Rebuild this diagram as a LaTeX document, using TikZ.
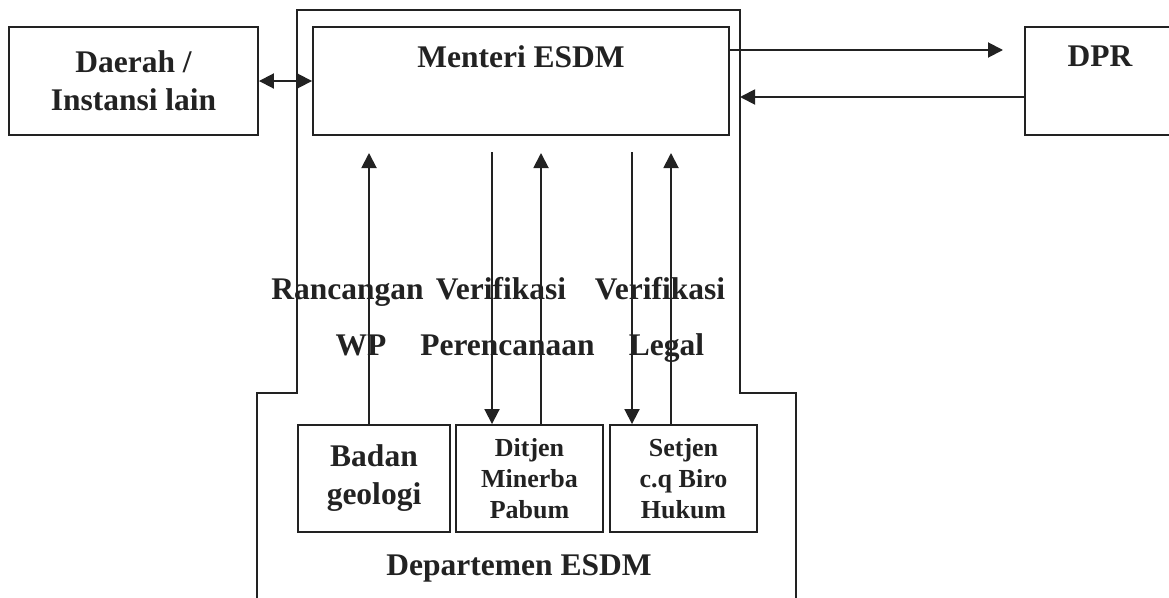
\documentclass[tikz,border=0pt]{standalone}
\usepackage{fontspec}
\setmainfont{Liberation Serif}
\usetikzlibrary{arrows.meta}
\definecolor{ink}{HTML}{222222}
\begin{document}
\begin{tikzpicture}[x=1pt,y=-1pt,
  line/.style={draw=ink,line width=1.9pt},
  arr/.style={line,-{Triangle[length=15pt,width=15pt]}},
  box/.style={line,rectangle,inner sep=0pt,align=center,text=ink,
    font=\fontsize{31.5}{38}\selectfont\bfseries},
  unit/.style={box,minimum width=147pt,minimum height=107pt},
  word/.style={anchor=base,text=ink,inner sep=0pt,
    font=\fontsize{31.5}{38}\selectfont\bfseries}]
\clip (0,0) rectangle (1169,597);
% Departemen ESDM
\draw[line] (257,620) -- (257,393) -- (297,393) -- (297,10) -- (740,10)
  -- (740,393) -- (796,393) -- (796,620);
\node[box,minimum width=249pt,minimum height=108pt] (DA) at (133.5,81) {Daerah /\\Instansi lain};
\node[box,minimum width=416pt,minimum height=108pt] (ME) at (521,81) {Menteri ESDM\\\strut};
\node[box,minimum width=150pt,minimum height=108pt] (DP) at (1100,81) {DPR\\\strut};
\node[unit,minimum width=152pt] (BG) at (374,478.5) {Badan\\geologi};
\node[unit,font=\fontsize{26}{31}\selectfont\bfseries] (DM) at (529.5,478.5) {Ditjen\\Minerba\\Pabum};
\node[unit,font=\fontsize{26}{31}\selectfont\bfseries] (SB) at (683.5,478.5) {Setjen\\c.q Biro\\Hukum};
\node[word] (DE) at (519,575) {Departemen ESDM};
% arrows
\draw[arr,{Triangle[length=15pt,width=15pt]}-{Triangle[length=15pt,width=15pt]}] (DA.east) -- (ME.west);
\coordinate (c1) at (1003,50);
\coordinate (c2) at (740,97);
\draw[arr] (ME.east |- c1) -- (c1);
\draw[arr] (DP.west |- c2) -- (c2);
\coordinate (u1) at (369,153);
\coordinate (d2) at (492,152);
\coordinate (u2) at (541,153);
\coordinate (d3) at (632,152);
\coordinate (u3) at (671,153);
\draw[arr] (u1 |- BG.north) -- (u1);
\draw[arr] (d2) -- (d2 |- DM.north);
\draw[arr] (u2 |- DM.north) -- (u2);
\draw[arr] (d3) -- (d3 |- SB.north);
\draw[arr] (u3 |- SB.north) -- (u3);
% labels
\node[word] (L1) at (347.5,299) {Rancangan};
\node[word] (L2) at (501,299) {Verifikasi};
\node[word] (L3) at (660,299) {Verifikasi};
\node[word] (L4) at (361,355) {WP};
\node[word] (L5) at (507.5,355) {Perencanaan};
\node[word] (L6) at (666.5,355) {Legal};
\end{tikzpicture}
\end{document}
